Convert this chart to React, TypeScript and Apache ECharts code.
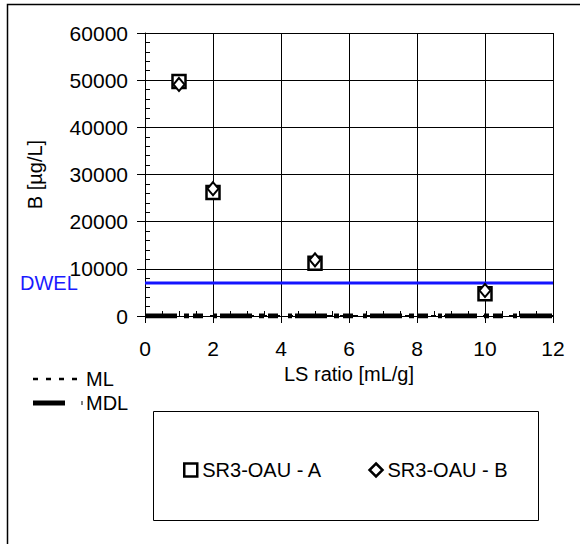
import React, { useEffect, useRef } from "react";
import * as echarts from "echarts";

const lsRatio = [1, 2, 5, 10];
const seriesA = [49700, 26200, 11200, 4700];
const seriesB = [49100, 27000, 11900, 5400];
const dwelValue = 7000;
const mlValue = 0;
const mdlValue = 0;
const xRange = [0, 12];
const seriesNames = ["SR3-OAU - A", "SR3-OAU - B"];
const FONT = "'Liberation Sans', Arial, sans-serif";

export default function App() {
  const ref = useRef<HTMLDivElement>(null);
  useEffect(() => {
    if (!ref.current) return;
    const chart = echarts.init(ref.current, undefined, { renderer: "svg" });
    const black = "#000";
    chart.setOption({
      animation: false,
      backgroundColor: "#fff",
      textStyle: { fontFamily: FONT },
      grid: { left: 145, top: 33, width: 408, height: 283, containLabel: false },
      xAxis: [
        {
          type: "value",
          min: 0,
          max: 12,
          interval: 2,
          name: "LS ratio [mL/g]",
          nameLocation: "middle",
          nameGap: 48,
          nameTextStyle: { color: black, fontSize: 20, fontFamily: FONT },
          axisLine: { show: true, onZero: false, lineStyle: { color: black, width: 1 } },
          axisTick: { show: true, inside: false, length: 7, lineStyle: { color: black } },
          axisLabel: { color: black, fontSize: 21, margin: 22, fontFamily: FONT },
          splitLine: { show: true, lineStyle: { color: black, width: 1 } },
        },
        {
          type: "value",
          min: 0,
          max: 12,
          interval: 0.5,
          position: "bottom",
          axisLine: { show: false },
          axisTick: { show: true, inside: true, length: 5, lineStyle: { color: black } },
          axisLabel: { show: false },
          splitLine: { show: false },
        },
      ],
      yAxis: [
        {
          type: "value",
          min: 0,
          max: 60000,
          interval: 10000,
          name: "B [µg/L]",
          nameLocation: "middle",
          nameGap: 100,
          nameTextStyle: { color: black, fontSize: 20, fontFamily: FONT },
          axisLine: { show: true, onZero: false, lineStyle: { color: black, width: 1 } },
          axisTick: { show: true, inside: false, length: 8, lineStyle: { color: black } },
          axisLabel: {
            color: black,
            fontSize: 21,
            margin: 17,
            fontFamily: FONT,
            formatter: (v: number) => String(v),
          },
          splitLine: { show: true, lineStyle: { color: black, width: 1 } },
        },
        {
          type: "value",
          min: 0,
          max: 60000,
          interval: 2000,
          position: "left",
          axisLine: { show: false },
          axisTick: { show: true, inside: true, length: 5, lineStyle: { color: black } },
          axisLabel: { show: false },
          splitLine: { show: false },
        },
      ],
      legend: {
        data: [
          { name: seriesNames[0], icon: "rect" },
          { name: seriesNames[1], icon: "diamond" },
        ],
        left: 178,
        top: 455,
        itemWidth: 13,
        itemHeight: 13,
        itemGap: 46,
        itemStyle: { color: "#fff", borderColor: black, borderWidth: 2.5, opacity: 1 },
        textStyle: { color: black, fontSize: 20, fontFamily: FONT },
      },
      graphic: [
        {
          type: "rect",
          shape: { x: 7.5, y: 4.5, width: 700, height: 700 },
          style: { fill: "none", stroke: black, lineWidth: 1.5 },
          silent: true,
          z: 100,
        },
        {
          type: "rect",
          shape: { x: 153.5, y: 411.5, width: 385, height: 109 },
          style: { fill: "none", stroke: black, lineWidth: 1 },
          silent: true,
        },
        {
          type: "text",
          x: 20,
          y: 283,
          style: { text: "DWEL", fill: "#1a1aff", font: `20px ${FONT}`, textVerticalAlign: "middle" },
        },
        {
          type: "line",
          shape: { x1: 33, y1: 379, x2: 81, y2: 379 },
          style: { stroke: black, lineWidth: 2.5, lineDash: [5, 8] },
        },
        {
          type: "text",
          x: 86,
          y: 379,
          style: { text: "ML", fill: black, font: `20px ${FONT}`, textVerticalAlign: "middle" },
        },
        {
          type: "line",
          shape: { x1: 33, y1: 403, x2: 65, y2: 403 },
          style: { stroke: black, lineWidth: 5 },
        },
        {
          type: "line",
          shape: { x1: 82, y1: 401, x2: 82, y2: 405 },
          style: { stroke: black, lineWidth: 1 },
        },
        {
          type: "text",
          x: 86,
          y: 403,
          style: { text: "MDL", fill: black, font: `20px ${FONT}`, textVerticalAlign: "middle" },
        },
      ],
      series: [
        {
          name: "ML",
          type: "line",
          data: xRange.map((x) => [x, mlValue]),
          symbol: "none",
          lineStyle: { color: black, width: 2, type: [5, 8] },
          z: 3,
        },
        {
          name: "MDL",
          type: "line",
          data: xRange.map((x) => [x, mdlValue]),
          symbol: "none",
          lineStyle: { color: black, width: 5, type: [32, 7, 5, 4, 10, 10, 4, 3], cap: "butt" },
          z: 3,
        },
        {
          name: "DWEL",
          type: "line",
          data: xRange.map((x) => [x, dwelValue]),
          symbol: "none",
          lineStyle: { color: "#1414ff", width: 3 },
          z: 3,
        },
        {
          name: seriesNames[0],
          type: "scatter",
          data: lsRatio.map((x, i) => [x, seriesA[i]]),
          symbol: "rect",
          symbolSize: 13,
          itemStyle: { color: "#fff", borderColor: black, borderWidth: 2.5, opacity: 1 },
          z: 4,
        },
        {
          name: seriesNames[1],
          type: "scatter",
          data: lsRatio.map((x, i) => [x, seriesB[i]]),
          symbol: "diamond",
          symbolSize: [11, 13],
          itemStyle: { color: "#fff", borderColor: black, borderWidth: 2, opacity: 1 },
          z: 5,
        },
      ],
    });
    return () => chart.dispose();
  }, []);
  return (
    <div
      ref={ref}
      style={{ position: "fixed", left: 0, top: 0, width: 580, height: 544, background: "#fff" }}
    />
  );
}
